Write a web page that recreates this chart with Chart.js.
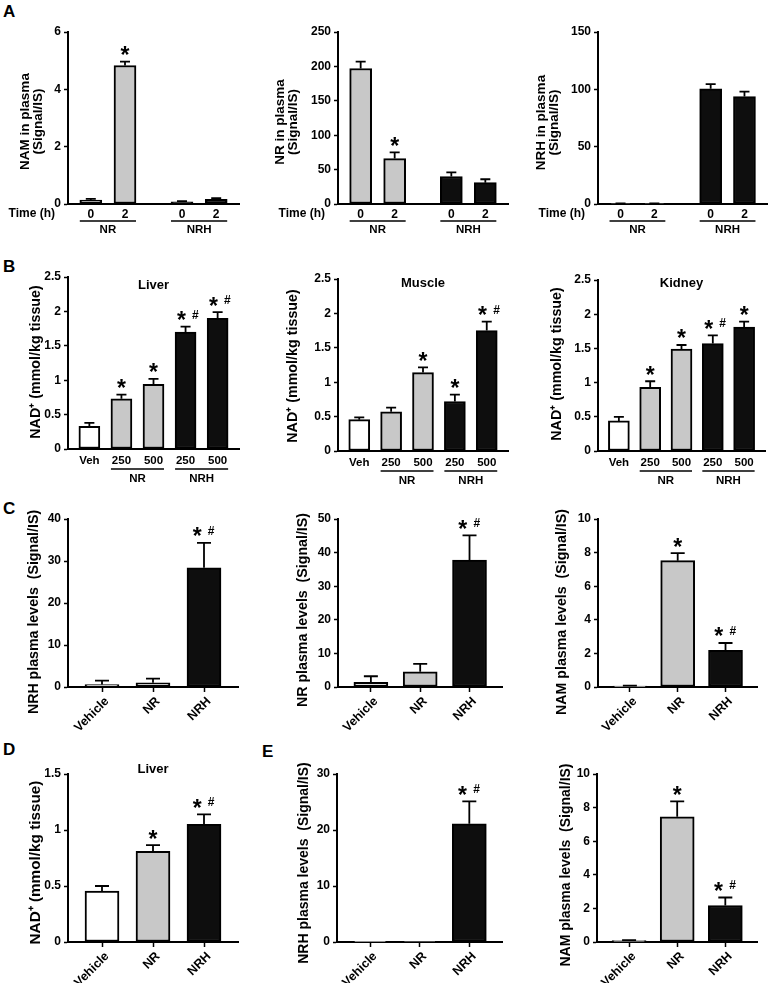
<!DOCTYPE html>
<html><head><meta charset="utf-8">
<script src="https://cdn.jsdelivr.net/npm/chart.js@4.4.1/dist/chart.umd.min.js"></script>
<style>
html,body{margin:0;padding:0;background:#fff;}
body{width:770px;height:983px;position:relative;overflow:hidden;font-family:'Liberation Sans',Arial,sans-serif;}
canvas{position:absolute;}
.lbl{position:absolute;font-weight:bold;font-size:17px;line-height:1;color:#000;}
</style></head><body>
<div class="lbl" style="left:3px;top:3px">A</div>
<div class="lbl" style="left:3px;top:258px">B</div>
<div class="lbl" style="left:3px;top:500px">C</div>
<div class="lbl" style="left:3px;top:741px">D</div>
<div class="lbl" style="left:262px;top:743px">E</div>
<script>
// ---------------- DATA ----------------
// Panel A : plasma levels after oral gavage, time 0 h / 2 h
const timeTicks = ['0', '2', '0', '2'];
const namPlasma    = [0.14, 4.83, 0.08, 0.16];
const namPlasmaErr = [0.04, 0.14, 0.02, 0.04];
const namPlasmaStar = ['', '*', '', ''];
const nrPlasma     = [197, 66, 40, 31];
const nrPlasmaErr  = [10, 9, 6, 5];
const nrPlasmaStar = ['', '*', '', ''];
const nrhPlasma    = [0.4, 0.4, 100.4, 93.7];
const nrhPlasmaErr = [0.2, 0.2, 4.2, 4.3];
const nrhPlasmaStar = ['', '', '', ''];

// Panel B : tissue NAD+ (mmol/kg tissue), dose mg/kg
const doseTicks = ['Veh', '250', '500', '250', '500'];
const liverNad    = [0.33, 0.73, 0.94, 1.70, 1.90];
const liverNadErr = [0.05, 0.06, 0.08, 0.08, 0.09];
const liverStar   = ['', '*', '*', '*', '*'];
const liverHash   = ['', '', '', '#', '#'];
const muscleNad    = [0.455, 0.57, 1.14, 0.72, 1.75];
const muscleNadErr = [0.035, 0.06, 0.075, 0.10, 0.13];
const muscleStar   = ['', '', '*', '*', '*'];
const muscleHash   = ['', '', '', '', '#'];
const kidneyNad    = [0.44, 0.93, 1.49, 1.57, 1.81];
const kidneyNadErr = [0.06, 0.09, 0.06, 0.12, 0.08];
const kidneyStar   = ['', '*', '*', '*', '*'];
const kidneyHash   = ['', '', '', '#', ''];

// Panel C : plasma levels (Signal/IS)
const treatTicks = ['Vehicle', 'NR', 'NRH'];
const cNrh    = [0.6, 1.0, 28.4];
const cNrhErr = [0.9, 1.0, 5.9];
const cNr     = [1.4, 4.55, 37.8];
const cNrErr  = [1.8, 2.35, 7.3];
const cNam    = [0.05, 7.52, 2.18];
const cNamErr = [0.03, 0.45, 0.44];
const cStar   = ['', '', '*'];
const cHash   = ['', '', '#'];
const cNamStar = ['', '*', '*'];
const cNamHash = ['', '', '#'];

// Panel D : liver NAD+
const dLiver    = [0.455, 0.81, 1.05];
const dLiverErr = [0.045, 0.055, 0.09];
const dStar     = ['', '*', '*'];
const dHash     = ['', '', '#'];

// Panel E : plasma levels (Signal/IS)
const eNrh    = [0.05, 0.1, 21.1];
const eNrhErr = [0, 0, 4.0];
const eNam    = [0.08, 7.45, 2.17];
const eNamErr = [0.03, 0.92, 0.48];
const eNrhStar = ['', '', '*'];
const eNrhHash = ['', '', '#'];
const eNamStar = ['', '*', '*'];
const eNamHash = ['', '', '#'];

// ---------------- STYLE ----------------
const WHITE = '#ffffff', GREY = '#c8c8c8', BLACK = '#0e0e0e';
const FONT = "'Liberation Sans', Arial, Helvetica, sans-serif";
Chart.defaults.font.family = FONT;
Chart.defaults.font.weight = 'bold';
Chart.defaults.color = '#000';

const colsA = [GREY, GREY, BLACK, BLACK];
const colsB = [WHITE, GREY, GREY, BLACK, BLACK];
const colsC = [WHITE, GREY, BLACK];
const groupsA = [{label: 'NR', from: 0, to: 1}, {label: 'NRH', from: 2, to: 3}];
const groupsB = [{label: 'NR', from: 1, to: 2}, {label: 'NRH', from: 3, to: 4}];

// layout presets
const kindA = {nSlots: 16, slots: [2, 5, 10, 13], barW: 22, capW: 10, xFont: 12, xPad: 3, rot: 0, xTicks: false, labelOffset: 0,
               groupLineDy: 17, groupLabelDy: 26, timeLabel: true};
const kindB = {nSlots: 17, slots: [2, 5, 8, 11, 14], barW: 21, capW: 10, xFont: 11.5, xPad: 5, rot: 0, xTicks: false, labelOffset: 0,
               groupLineDy: 20, groupLabelDy: 30};
const kindC = {nSlots: 11, slots: [2, 5, 8], barW: 34, capW: 14, xFont: 12.5, xPad: 2, rot: 45, xTicks: true, labelOffset: 5};

const panels = [
  Object.assign({}, kindA, {left: 0, top: 20, width: 255, height: 228, axisX: 68, xEnd: 239, plotTop: 32, zeroY: 204,
    yMax: 6, yStep: 2, yTitle: ['NAM in plasma', '(Signal/IS)'], titleX: 32, titleY: 121.5, titleSize: 13.5,
    labels: timeTicks, values: namPlasma, errors: namPlasmaErr, star: namPlasmaStar, colors: colsA, groups: groupsA}),
  Object.assign({}, kindA, {left: 255, top: 20, width: 260, height: 228, axisX: 338, xEnd: 508, plotTop: 32, zeroY: 204,
    yMax: 250, yStep: 50, yTitle: ['NR in plasma', '(Signal/IS)'], titleX: 287, titleY: 122, titleSize: 13.5,
    labels: timeTicks, values: nrPlasma, errors: nrPlasmaErr, star: nrPlasmaStar, colors: colsA, groups: groupsA}),
  Object.assign({}, kindA, {left: 515, top: 20, width: 255, height: 228, axisX: 598, xEnd: 768, plotTop: 32, zeroY: 204,
    yMax: 150, yStep: 50, yTitle: ['NRH in plasma', '(Signal/IS)'], titleX: 548, titleY: 122.5, titleSize: 13.5,
    labels: timeTicks, values: nrhPlasma, errors: nrhPlasmaErr, star: nrhPlasmaStar, colors: colsA, groups: groupsA}),

  Object.assign({}, kindB, {left: 0, top: 255, width: 255, height: 240, axisX: 68, xEnd: 239, plotTop: 277, zeroY: 449,
    yMax: 2.5, yStep: 0.5, yTitle: ['NAD\u207A (mmol/kg tissue)'], titleX: 36, titleY: 362, titleSize: 14.3,
    labels: doseTicks, values: liverNad, errors: liverNadErr, star: liverStar, hash: liverHash, colors: colsB, groups: groupsB,
    panelTitle: 'Liver', panelTitleY: 285}),
  Object.assign({}, kindB, {left: 255, top: 255, width: 260, height: 240, axisX: 338, xEnd: 508, plotTop: 279, zeroY: 451,
    yMax: 2.5, yStep: 0.5, yTitle: ['NAD\u207A (mmol/kg tissue)'], titleX: 293, titleY: 366, titleSize: 14.3,
    labels: doseTicks, values: muscleNad, errors: muscleNadErr, star: muscleStar, hash: muscleHash, colors: colsB, groups: groupsB,
    panelTitle: 'Muscle', panelTitleY: 283}),
  Object.assign({}, kindB, {left: 515, top: 255, width: 255, height: 240, axisX: 598, xEnd: 768, plotTop: 280, zeroY: 451,
    yMax: 2.5, yStep: 0.5, yTitle: ['NAD\u207A (mmol/kg tissue)'], titleX: 557, titleY: 364, titleSize: 14.3,
    labels: doseTicks, values: kidneyNad, errors: kidneyNadErr, star: kidneyStar, hash: kidneyHash, colors: colsB, groups: groupsB,
    panelTitle: 'Kidney', panelTitleY: 283.5}),

  Object.assign({}, kindC, {left: 0, top: 505, width: 255, height: 245, axisX: 68, xEnd: 238, plotTop: 519, zeroY: 687,
    yMax: 40, yStep: 10, yTitle: ['NRH plasma levels  (Signal/IS)'], titleX: 34, titleY: 612, titleSize: 14.2,
    labels: treatTicks, values: cNrh, errors: cNrhErr, star: cStar, hash: cHash, colors: colsC}),
  Object.assign({}, kindC, {left: 255, top: 505, width: 260, height: 245, axisX: 338, xEnd: 508, plotTop: 519, zeroY: 687,
    yMax: 50, yStep: 10, yTitle: ['NR plasma levels  (Signal/IS)'], titleX: 303, titleY: 610, titleSize: 14.2,
    labels: treatTicks, values: cNr, errors: cNrErr, star: cStar, hash: cHash, colors: colsC}),
  Object.assign({}, kindC, {left: 515, top: 505, width: 255, height: 245, axisX: 598, xEnd: 768, plotTop: 519, zeroY: 687,
    yMax: 10, yStep: 2, yTitle: ['NAM plasma levels  (Signal/IS)'], titleX: 562, titleY: 612, titleSize: 14.2,
    labels: treatTicks, values: cNam, errors: cNamErr, star: cNamStar, hash: cNamHash, colors: colsC}),

  Object.assign({}, kindC, {left: 0, top: 762, width: 255, height: 221, axisX: 68, xEnd: 238, plotTop: 774, zeroY: 942,
    yMax: 1.5, yStep: 0.5, yTitle: ['NAD\u207A (mmol/kg tissue)'], titleX: 36, titleY: 862.5, titleSize: 15.3,
    labels: treatTicks, values: dLiver, errors: dLiverErr, star: dStar, hash: dHash, colors: colsC,
    panelTitle: 'Liver', panelTitleY: 769.5}),
  Object.assign({}, kindC, {left: 255, top: 762, width: 260, height: 221, axisX: 337, xEnd: 507, plotTop: 774, zeroY: 942,
    yMax: 30, yStep: 10, yTitle: ['NRH plasma levels  (Signal/IS)'], titleX: 304, titleY: 863, titleSize: 14,
    labels: treatTicks, values: eNrh, errors: eNrhErr, star: eNrhStar, hash: eNrhHash, colors: colsC}),
  Object.assign({}, kindC, {left: 515, top: 762, width: 255, height: 221, axisX: 597, xEnd: 766, plotTop: 774, zeroY: 942,
    yMax: 10, yStep: 2, yTitle: ['NAM plasma levels  (Signal/IS)'], titleX: 566, titleY: 865, titleSize: 14,
    labels: treatTicks, values: eNam, errors: eNamErr, star: eNamStar, hash: eNamHash, colors: colsC})
];

function glyphText(ctx, txt, x, cy, size) {
  ctx.font = 'bold ' + size + 'px ' + FONT;
  ctx.textAlign = 'center';
  ctx.textBaseline = 'alphabetic';
  const m = ctx.measureText(txt);
  ctx.fillText(txt, x, cy + (m.actualBoundingBoxAscent - m.actualBoundingBoxDescent) / 2);
}

function makePanel(p) {
  const cv = document.createElement('canvas');
  cv.width = p.width; cv.height = p.height;
  cv.style.left = p.left + 'px'; cv.style.top = p.top + 'px';
  cv.style.width = p.width + 'px'; cv.style.height = p.height + 'px';
  document.body.appendChild(cv);

  const labels = new Array(p.nSlots).fill('');
  const vals = new Array(p.nSlots).fill(null);
  const cols = new Array(p.nSlots).fill(WHITE);
  p.slots.forEach((s, i) => { labels[s] = p.labels[i]; vals[s] = p.values[i]; cols[s] = p.colors[i]; });

  const overlay = {
    id: 'overlay',
    afterDraw(chart) {
      const ctx = chart.ctx, ys = chart.scales.y, meta = chart.getDatasetMeta(0);
      const area = chart.chartArea;
      ctx.save();
      ctx.strokeStyle = '#000'; ctx.fillStyle = '#000'; ctx.lineWidth = 1.8;
      p.slots.forEach((s, i) => {
        const el = meta.data[s];
        const x = el.x, w = el.width;
        const yTop = ys.getPixelForValue(p.values[i]);
        const yE = ys.getPixelForValue(p.values[i] + p.errors[i]);
        if (p.errors[i] > 0) {
          ctx.beginPath();
          ctx.moveTo(x, yTop); ctx.lineTo(x, yE);
          ctx.moveTo(x - p.capW / 2, yE); ctx.lineTo(x + p.capW / 2, yE);
          ctx.stroke();
        }
        const hasHash = p.hash && p.hash[i];
        const starX = hasHash ? x - 0.2 * w : x;
        const cy = yE - 11;
        if (p.star && p.star[i]) glyphText(ctx, p.star[i], starX, cy, 23);
        if (hasHash) glyphText(ctx, p.hash[i], starX + 14, cy - 1.5, 12);
      });
      // group underlines (A, B)
      if (p.groups) {
        ctx.lineWidth = 1.5;
        p.groups.forEach(g => {
          const a = meta.data[p.slots[g.from]], b = meta.data[p.slots[g.to]];
          const x1 = a.x - a.width / 2, x2 = b.x + b.width / 2;
          const ly = area.bottom + p.groupLineDy;
          ctx.beginPath(); ctx.moveTo(x1, ly); ctx.lineTo(x2, ly); ctx.stroke();
          ctx.font = 'bold 11.5px ' + FONT;
          ctx.textAlign = 'center'; ctx.textBaseline = 'middle';
          ctx.fillText(g.label, (x1 + x2) / 2, area.bottom + p.groupLabelDy);
        });
      }
      if (p.timeLabel) {
        ctx.font = 'bold 12px ' + FONT;
        ctx.textAlign = 'right'; ctx.textBaseline = 'middle';
        ctx.fillText('Time (h)', area.left - 13, area.bottom + 10);
      }
      if (p.panelTitle) {
        ctx.font = 'bold 13px ' + FONT;
        ctx.textAlign = 'center'; ctx.textBaseline = 'middle';
        ctx.fillText(p.panelTitle, (area.left + area.right) / 2, p.panelTitleY - p.top);
      }
      // y-axis title (rotated)
      ctx.font = 'bold ' + p.titleSize + 'px ' + FONT;
      ctx.textAlign = 'center'; ctx.textBaseline = 'middle';
      const lh = 12.5, n = p.yTitle.length;
      ctx.translate(p.titleX - p.left, p.titleY - p.top);
      ctx.rotate(-Math.PI / 2);
      p.yTitle.forEach((t, k) => ctx.fillText(t, 0, (k - (n - 1) / 2) * lh));
      ctx.restore();
    }
  };

  const tickCol = (c) => (labels[c.index] ? '#000' : 'rgba(0,0,0,0)');

  new Chart(cv, {
    type: 'bar',
    data: {
      labels: labels,
      datasets: [{
        data: vals,
        backgroundColor: cols,
        borderColor: '#000',
        borderWidth: 2,
        borderSkipped: false,
        barThickness: p.barW
      }]
    },
    options: {
      responsive: false,
      animation: false,
      devicePixelRatio: 1,
      layout: {padding: {left: 0, top: p.plotTop - p.top, right: p.left + p.width - p.xEnd, bottom: 0}},
      plugins: {legend: {display: false}, tooltip: {enabled: false}},
      scales: {
        x: {
          type: 'category',
          offset: false,
          grid: p.xTicks
            ? {display: true, offset: false, drawOnChartArea: false, drawTicks: true, tickLength: 5, tickWidth: 1.5, tickColor: tickCol, color: tickCol}
            : {display: false, drawTicks: false},
          border: {display: true, color: '#000', width: 2},
          ticks: {autoSkip: false, minRotation: p.rot, maxRotation: p.rot, padding: p.xPad, labelOffset: p.labelOffset, color: '#000',
                  font: {size: p.xFont, weight: 'bold'}},
          afterFit: (s) => { s.height = p.top + p.height - p.zeroY; }
        },
        y: {
          min: 0, max: p.yMax,
          ticks: {stepSize: p.yStep, padding: 3, color: '#000', font: {size: 12, weight: 'bold'},
                  callback: (v) => String(+(+v).toFixed(3))},
          grid: {display: true, drawOnChartArea: false, drawTicks: true, tickLength: 4, tickWidth: 1.5, tickColor: '#000', color: '#000'},
          border: {display: true, color: '#000', width: 2},
          title: {display: false, text: p.yTitle},
          afterFit: (s) => { s.width = p.axisX - p.left; }
        }
      }
    },
    plugins: [overlay]
  });
}

panels.forEach(makePanel);
</script>
</body></html>
